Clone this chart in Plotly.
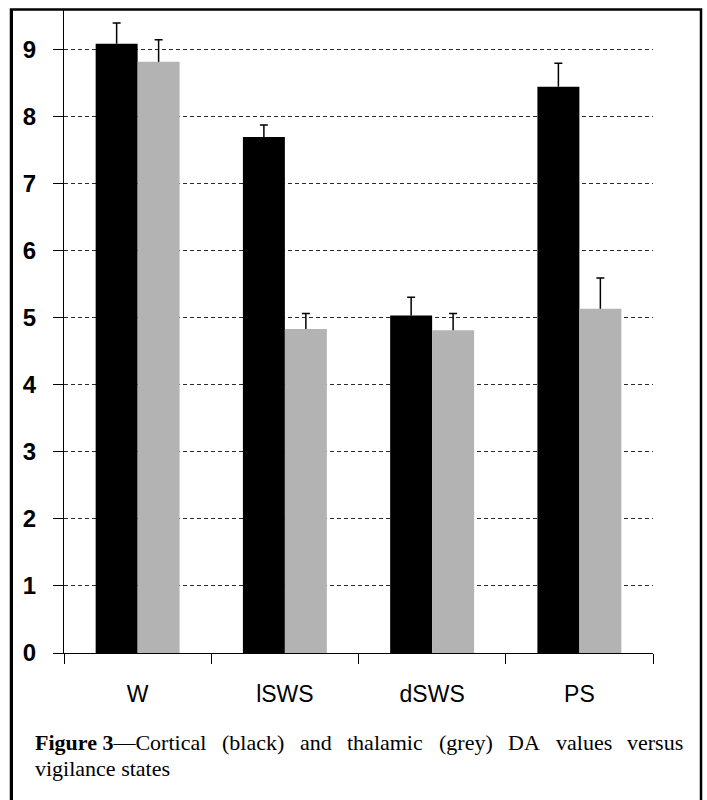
import plotly.graph_objects as go

categories = ["W", "lSWS", "dSWS", "PS"]
cortical = [9.08, 7.69, 5.03, 8.44]
cortical_err = [0.31, 0.18, 0.27, 0.35]
thalamic = [8.81, 4.83, 4.81, 5.13]
thalamic_err = [0.33, 0.23, 0.25, 0.46]
y_ticks = [0, 1, 2, 3, 4, 5, 6, 7, 8, 9]

W, H = 707, 800
PL, PR, PT, PB = 64, 653, 10, 653  # plot area in pixels
pw, ph = PR - PL, PB - PT


def px(x):
    return (x - PL) / pw


def py(y):
    return (PB - y) / ph


fig = go.Figure()
for name, vals, errs, color, grp in [
    ("Cortical", cortical, cortical_err, "#000000", "c"),
    ("Thalamic", thalamic, thalamic_err, "#b3b3b3", "t"),
]:
    # the bar with the upper whisker (no caps)
    fig.add_trace(go.Bar(
        x=categories, y=vals, name=name, marker_color=color,
        marker_line_width=0, offsetgroup=grp,
        error_y=dict(type="data", array=errs, arrayminus=[0] * len(errs),
                     symmetric=False, color="#000000", thickness=1.5, width=0),
    ))
    # transparent bar in the same slot, only used to draw the cap on top
    fig.add_trace(go.Bar(
        x=categories, y=[v + e for v, e in zip(vals, errs)], name=name + " cap",
        marker_color="rgba(0,0,0,0)", marker_line_width=0, offsetgroup=grp,
        hoverinfo="skip",
        error_y=dict(type="data", array=[0] * len(errs), symmetric=True,
                     color="#000000", thickness=1.5, width=4),
    ))

axis_font = dict(family="Arial, Liberation Sans, sans-serif", color="#000000")

fig.update_layout(
    width=W, height=H,
    margin=dict(l=PL, r=W - PR, t=PT, b=H - PB, pad=0),
    paper_bgcolor="white", plot_bgcolor="white",
    barmode="group", bargap=0.43, bargroupgap=0,
    showlegend=False,
    xaxis=dict(
        showline=True, linecolor="#000000", linewidth=1.2,
        ticks="outside", tickson="boundaries", ticklen=10, tickcolor="#000000",
        tickwidth=1.2, showgrid=False,
        tickfont=dict(size=23, **axis_font), ticklabelstandoff=20,
    ),
    yaxis=dict(
        range=[0, (PB - PT) / 67.1], tickvals=y_ticks,
        showline=True, linecolor="#000000", linewidth=1.2,
        ticks="outside", ticklen=10, tickcolor="#000000", tickwidth=1.2,
        showgrid=True, gridcolor="#2a2a2a", gridwidth=1.4, griddash="4px,3px",
        zeroline=False,
        tickfont=dict(size=24, weight="bold", **axis_font), ticklabelstandoff=12,
    ),
)

# outer frame; its bottom edge runs off the page
fig.add_shape(type="rect", xref="paper", yref="paper",
              x0=px(11), x1=px(701), y0=py(820), y1=py(9.5),
              line=dict(color="#000000", width=2.5),
              fillcolor="rgba(0,0,0,0)", layer="below")
fig.add_shape(type="line", xref="paper", yref="paper",
              x0=px(11.5), x1=px(11.5), y0=py(820), y1=py(9.5),
              line=dict(color="#000000", width=3), layer="above")

# justified caption: first line placed word by word
cap_font = dict(family="Times New Roman, Liberation Serif, serif", size=22, color="#000000")
words = ["<b>Figure 3</b>—Cortical", "(black)", "and", "thalamic", "(grey)",
         "DA", "values", "versus"]
approx_w = [172, 62, 32, 76, 54, 32, 56, 56]  # rendered widths at 22px
left, right = 33, 681
gap = (right - left - sum(approx_w)) / (len(words) - 1)
xpos = left
for w, ww in zip(words, approx_w):
    fig.add_annotation(x=px(xpos), y=py(742), xref="paper", yref="paper",
                       text=w, showarrow=False, xanchor="left", yanchor="middle",
                       font=cap_font)
    xpos += ww + gap
fig.add_annotation(x=px(33), y=py(768), xref="paper", yref="paper",
                   text="vigilance states", showarrow=False, xanchor="left",
                   yanchor="middle", font=cap_font)

fig.write_html("out.html", config={"displayModeBar": False},
               post_script="document.body.style.margin='0px';")
